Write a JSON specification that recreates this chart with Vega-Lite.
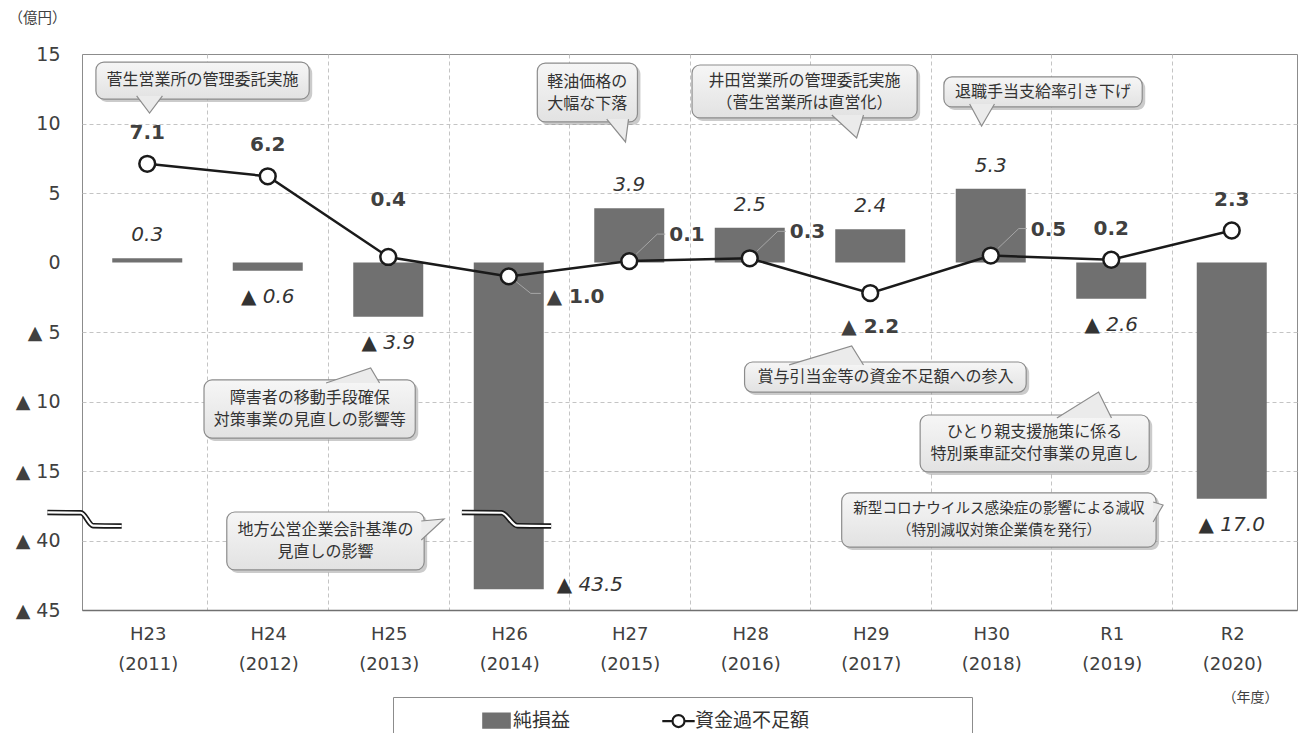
{
"$schema":"https://vega.github.io/schema/vega-lite/v6.json",
"width":1215,"height":556,"autosize":"none",
"padding":{"left":82,"top":54,"right":3,"bottom":123},
"background":"white",
"config":{
 "view":{"stroke":"#8c8c8c","strokeWidth":1},
 "locale":{"number":{"decimal":".","thousands":",","grouping":[3],"currency":["",""],"minus":"▲ "}},
 "axis":{"labelFont":"DejaVu Sans","labelColor":"#404040","titleFont":"Noto Sans CJK JP","titleColor":"#404040","titleFontWeight":"normal","ticks":false}
},
"datasets":{
 "main":[
  {"i":0,"nendo":"H23","year":2011,"pl":0.3,"cf":7.1},
  {"i":1,"nendo":"H24","year":2012,"pl":-0.6,"cf":6.2},
  {"i":2,"nendo":"H25","year":2013,"pl":-3.9,"cf":0.4},
  {"i":3,"nendo":"H26","year":2014,"pl":-43.5,"cf":-1.0},
  {"i":4,"nendo":"H27","year":2015,"pl":3.9,"cf":0.1},
  {"i":5,"nendo":"H28","year":2016,"pl":2.5,"cf":0.3},
  {"i":6,"nendo":"H29","year":2017,"pl":2.4,"cf":-2.2},
  {"i":7,"nendo":"H30","year":2018,"pl":5.3,"cf":0.5},
  {"i":8,"nendo":"R1","year":2019,"pl":-2.6,"cf":0.2},
  {"i":9,"nendo":"R2","year":2020,"pl":-17.0,"cf":2.3}
 ],
 "notes":[
  {"id":1,"text":"菅生営業所の管理委託実施","xa":-0.426,"xb":1.344,"ya":14.42,"yb":11.76,"tx":0.459,"ty":13.1},
  {"id":2,"text":"軽油価格の\n大幅な下落","xa":3.237,"xb":4.068,"ya":14.35,"yb":10.11,"tx":3.652,"ty":12.23},
  {"id":3,"text":"井田営業所の管理委託実施\n（菅生営業所は直営化）","xa":4.521,"xb":6.389,"ya":14.21,"yb":10.40,"tx":5.455,"ty":12.30},
  {"id":4,"text":"退職手当支給率引き下げ","xa":6.611,"xb":8.257,"ya":13.35,"yb":11.19,"tx":7.434,"ty":12.27},
  {"id":5,"text":"障害者の移動手段確保\n対策事業の見直しの影響等","xa":0.471,"xb":2.224,"ya":-8.45,"yb":-12.63,"tx":1.348,"ty":-10.54},
  {"id":6,"text":"地方公営企業会計基準の\n見直しの影響","xa":0.660,"xb":2.298,"ya":-24.28,"yb":-42.12,"tx":1.479,"ty":-40.04},
  {"id":7,"text":"賞与引当金等の資金不足額への参入","xa":4.957,"xb":7.294,"ya":-7.16,"yb":-9.32,"tx":6.126,"ty":-8.24},
  {"id":8,"text":"ひとり親支援施策に係る\n特別乗車証交付事業の見直し","xa":6.414,"xb":8.315,"ya":-10.97,"yb":-15.07,"tx":7.364,"ty":-13.02},
  {"id":9,"text":"新型コロナウイルス感染症の影響による減収\n（特別減収対策企業債を発行）","xa":5.763,"xb":8.372,"ya":-16.58,"yb":-40.47,"tx":7.068,"ty":-28.69}
 ],
 "tails":[
  {"id":1,"k":0,"x":-0.088,"y":11.98},{"id":1,"k":1,"x":0.019,"y":10.75},{"id":1,"k":2,"x":0.126,"y":11.98},
  {"id":2,"k":0,"x":3.813,"y":10.32},{"id":2,"k":1,"x":3.969,"y":8.67},{"id":2,"k":2,"x":3.994,"y":10.32},
  {"id":3,"k":0,"x":5.681,"y":10.61},{"id":3,"k":1,"x":5.887,"y":8.96},{"id":3,"k":2,"x":5.944,"y":10.61},
  {"id":4,"k":0,"x":6.825,"y":11.40},{"id":4,"k":1,"x":6.924,"y":9.82},{"id":4,"k":2,"x":7.031,"y":11.40},
  {"id":5,"k":0,"x":1.484,"y":-8.67},{"id":5,"k":1,"x":1.854,"y":-7.59},{"id":5,"k":2,"x":1.928,"y":-8.67},
  {"id":6,"k":0,"x":2.274,"y":-29.25},{"id":6,"k":1,"x":2.463,"y":-28.14},{"id":6,"k":2,"x":2.274,"y":-39.72},
  {"id":7,"k":0,"x":5.327,"y":-7.37},{"id":7,"k":1,"x":5.846,"y":-6.01},{"id":7,"k":2,"x":5.944,"y":-7.37},
  {"id":8,"k":0,"x":7.549,"y":-11.19},{"id":8,"k":1,"x":7.895,"y":-9.32},{"id":8,"k":2,"x":8.002,"y":-11.19},
  {"id":9,"k":0,"x":8.348,"y":-18.76},{"id":9,"k":1,"x":8.430,"y":-20.42},{"id":9,"k":2,"x":8.348,"y":-29.80}
 ],
 "breaks":[
  {"id":"axis","k":0,"x":-0.829,"y":-24.5},{"id":"axis","k":1,"x":-0.55,"y":-24.7},{"id":"axis","k":2,"x":-0.45,"y":-31.8},{"id":"axis","k":3,"x":-0.212,"y":-32.0},
  {"id":"bar","k":0,"x":2.611,"y":-24.5},{"id":"bar","k":1,"x":2.94,"y":-24.7},{"id":"bar","k":2,"x":3.07,"y":-31.8},{"id":"bar","k":3,"x":3.352,"y":-32.0}
 ]
},
"layer":[
 {"data":{"name":"main"},
  "mark":{"type":"bar","orient":"vertical","width":70},
  "encoding":{
   "x":{"field":"i","type":"quantitative","scale":{"domain":[-0.5,9.5],"nice":false,"zero":false},
    "axis":{"values":[-0.5,0.5,1.5,2.5,3.5,4.5,5.5,6.5,7.5,8.5],
     "labelExpr":"[['H23','(2011)'],['H24','(2012)'],['H25','(2013)'],['H26','(2014)'],['H27','(2015)'],['H28','(2016)'],['H29','(2017)'],['H30','(2018)'],['R1','(2019)'],['R2','(2020)']][round(datum.value+0.5)]",
     "labelOffset":60.75,"labelFontSize":18,"labelLineHeight":30,"labelPadding":15,"labelBaseline":"top","labelFlush":false,"labelOverlap":false,
     "grid":true,"gridDash":[4,3],"gridColor":{"condition":{"test":"datum.value < 0","value":"transparent"},"value":"#c4c4c4"},
     "domain":true,"domainColor":"#707070","domainWidth":1.5,
     "title":"（年度）","titleX":1168,"titleY":87,"titleAlign":"center","titleBaseline":"middle","titleFontSize":14}},
   "y":{"field":"pl","type":"quantitative","scale":{"domain":[-45,-40,-17,15],"range":[556,486.5,444.8,0],"nice":false,"zero":false},
    "axis":{"values":[-45,-40,-15,-10,-5,0,5,10,15],
     "labelExpr":"datum.value < 0 ? '▲ ' + abs(datum.value) : '' + datum.value",
     "labelFontSize":19,"labelPadding":22,"labelFlush":false,"labelOverlap":false,
     "grid":true,"gridDash":[4,3],"gridColor":{"condition":{"test":"datum.value === 15 || datum.value === -45 || datum.value === 0","value":"transparent"},"value":"#c4c4c4"},
     "domain":false,
     "title":"（億円）","titleAngle":0,"titleX":-74,"titleY":-36,"titleAlign":"left","titleBaseline":"middle","titleFontSize":14.5}},
   "y2":{"datum":0},
   "color":{"datum":"純損益","type":"nominal","scale":{"domain":["純損益","資金過不足額"],"range":["#707070","#1a1a1a"]},
    "legend":{"orient":"none","legendX":311,"legendY":643,"direction":"horizontal",
     "title":"\u200B\u3000\u3000\u3000\u3000\u200B","titleOrient":"left","titleFont":"Noto Sans CJK JP","titleFontSize":20,"titlePadding":0,
     "padding":10,"strokeColor":"#8c8c8c","fillColor":"white",
     "labelFont":"Noto Sans CJK JP","labelFontSize":19,"labelColor":"#333333","labelOffset":3,"columnPadding":86,"labelLimit":600,
     "symbolSize":576,
     "labelExpr":"datum.label === '資金過不足額' ? datum.label + '\u3000\u3000\u3000\u3000\u3000\u3000\u3000\u3000\u200B' : datum.label",
     "encode":{"symbols":{"update":{
      "shape":{"signal":"datum.value === '純損益' ? 'M-1.1,-0.58H1.1V0.58H-1.1Z' : 'M-1.35,0H-0.5M0.5,0H1.35M-0.5,0A0.5,0.5,0,1,1,0.5,0A0.5,0.5,0,1,1,-0.5,0Z'"},
      "fill":{"signal":"datum.value === '純損益' ? '#707070' : '#ffffff'"},
      "fillOpacity":{"signal":"datum.value === '純損益' ? 1 : 0"},
      "stroke":{"signal":"datum.value === '純損益' ? '#707070' : '#1a1a1a'"},
      "strokeWidth":{"value":2.2},"size":{"value":576},"opacity":{"value":1},"strokeOpacity":{"value":1}}}}}}
  }},
 {"mark":{"type":"rule","color":"#404040","strokeWidth":1.5},"encoding":{"y":{"datum":0}}},
 {"data":{"name":"breaks"},"mark":{"type":"line","color":"#1a1a1a","strokeWidth":5.5,"interpolate":"monotone"},
  "encoding":{"x":{"field":"x","type":"quantitative"},"y":{"field":"y","type":"quantitative"},"detail":{"field":"id"},"order":{"field":"k"}}},
 {"data":{"name":"breaks"},"mark":{"type":"line","color":"#ffffff","strokeWidth":2.2,"interpolate":"monotone"},
  "encoding":{"x":{"field":"x","type":"quantitative"},"y":{"field":"y","type":"quantitative"},"detail":{"field":"id"},"order":{"field":"k"}}},
 {"data":{"name":"main"},"transform":[{"filter":"indexof([4,5,7], datum.i) >= 0"}],
  "mark":{"type":"rule","color":"#a6a6a6","strokeWidth":1,"xOffset":7,"yOffset":-7,"x2Offset":28,"y2Offset":-27},
  "encoding":{"x":{"field":"i","type":"quantitative"},"x2":{"field":"i"},"y":{"field":"cf","type":"quantitative"},"y2":{"field":"cf"}}},
 {"data":{"name":"main"},"transform":[{"filter":"indexof([4,5,7], datum.i) >= 0"}],
  "mark":{"type":"rule","color":"#a6a6a6","strokeWidth":1,"xOffset":28,"yOffset":-27,"x2Offset":36,"y2Offset":-27},
  "encoding":{"x":{"field":"i","type":"quantitative"},"x2":{"field":"i"},"y":{"field":"cf","type":"quantitative"},"y2":{"field":"cf"}}},
 {"data":{"name":"main"},"transform":[{"filter":"datum.i === 3"}],
  "mark":{"type":"rule","color":"#a6a6a6","strokeWidth":1,"xOffset":7,"yOffset":5,"x2Offset":22,"y2Offset":17},
  "encoding":{"x":{"field":"i","type":"quantitative"},"x2":{"field":"i"},"y":{"field":"cf","type":"quantitative"},"y2":{"field":"cf"}}},
 {"data":{"name":"main"},"transform":[{"filter":"datum.i === 3"}],
  "mark":{"type":"rule","color":"#a6a6a6","strokeWidth":1,"xOffset":22,"yOffset":17,"x2Offset":32,"y2Offset":17},
  "encoding":{"x":{"field":"i","type":"quantitative"},"x2":{"field":"i"},"y":{"field":"cf","type":"quantitative"},"y2":{"field":"cf"}}},
 {"data":{"name":"main"},
  "mark":{"type":"line","strokeWidth":2.5,"point":{"filled":false,"fill":"#ffffff","size":250,"strokeWidth":2.5}},
  "encoding":{"x":{"field":"i","type":"quantitative"},"y":{"field":"cf","type":"quantitative"},"color":{"datum":"資金過不足額","type":"nominal"}}},
 {"data":{"name":"main"},"transform":[{"filter":"datum.pl > 0"}],
  "mark":{"type":"text","font":"DejaVu Sans","fontSize":20,"fontStyle":"italic","color":"#333333","dy":-23,"baseline":"middle"},
  "encoding":{"x":{"field":"i","type":"quantitative"},"y":{"field":"pl","type":"quantitative"},"text":{"field":"pl","type":"quantitative","format":".1f"}}},
 {"data":{"name":"main"},"transform":[{"filter":"datum.pl < 0 && datum.pl > -40"}],
  "mark":{"type":"text","font":"DejaVu Sans","fontSize":20,"fontStyle":"italic","color":"#333333","dy":26,"baseline":"middle"},
  "encoding":{"x":{"field":"i","type":"quantitative"},"y":{"field":"pl","type":"quantitative"},"text":{"field":"pl","type":"quantitative","format":".1f"}}},
 {"data":{"name":"main"},"transform":[{"filter":"datum.pl < -40"}],
  "mark":{"type":"text","font":"DejaVu Sans","fontSize":20,"fontStyle":"italic","color":"#333333","dx":48,"dy":-4,"align":"left","baseline":"middle"},
  "encoding":{"x":{"field":"i","type":"quantitative"},"y":{"field":"pl","type":"quantitative"},"text":{"field":"pl","type":"quantitative","format":".1f"}}},
 {"data":{"name":"main"},"transform":[{"filter":"indexof([0,1,8,9], datum.i) >= 0"}],
  "mark":{"type":"text","font":"DejaVu Sans","fontSize":20,"fontWeight":"bold","color":"#404040","dy":-31,"baseline":"middle"},
  "encoding":{"x":{"field":"i","type":"quantitative"},"y":{"field":"cf","type":"quantitative"},"text":{"field":"cf","type":"quantitative","format":".1f"}}},
 {"data":{"name":"main"},"transform":[{"filter":"datum.i === 2"}],
  "mark":{"type":"text","font":"DejaVu Sans","fontSize":20,"fontWeight":"bold","color":"#404040","dy":-57,"baseline":"middle"},
  "encoding":{"x":{"field":"i","type":"quantitative"},"y":{"field":"cf","type":"quantitative"},"text":{"field":"cf","type":"quantitative","format":".1f"}}},
 {"data":{"name":"main"},"transform":[{"filter":"datum.i === 6"}],
  "mark":{"type":"text","font":"DejaVu Sans","fontSize":20,"fontWeight":"bold","color":"#404040","dy":34,"baseline":"middle"},
  "encoding":{"x":{"field":"i","type":"quantitative"},"y":{"field":"cf","type":"quantitative"},"text":{"field":"cf","type":"quantitative","format":".1f"}}},
 {"data":{"name":"main"},"transform":[{"filter":"indexof([4,5,7], datum.i) >= 0"}],
  "mark":{"type":"text","font":"DejaVu Sans","fontSize":20,"fontWeight":"bold","color":"#404040","dx":40,"dy":-26,"align":"left","baseline":"middle"},
  "encoding":{"x":{"field":"i","type":"quantitative"},"y":{"field":"cf","type":"quantitative"},"text":{"field":"cf","type":"quantitative","format":".1f"}}},
 {"data":{"name":"main"},"transform":[{"filter":"datum.i === 3"}],
  "mark":{"type":"text","font":"DejaVu Sans","fontSize":20,"fontWeight":"bold","color":"#404040","dx":38,"dy":21,"align":"left","baseline":"middle"},
  "encoding":{"x":{"field":"i","type":"quantitative"},"y":{"field":"cf","type":"quantitative"},"text":{"field":"cf","type":"quantitative","format":".1f"}}},
 {"data":{"name":"notes"},
  "mark":{"type":"rect","fill":"#8c8c8c","opacity":0.45,"cornerRadius":8,"xOffset":3,"x2Offset":3,"yOffset":3,"y2Offset":3},
  "encoding":{"x":{"field":"xa","type":"quantitative"},"x2":{"field":"xb"},"y":{"field":"ya","type":"quantitative"},"y2":{"field":"yb"}}},
 {"data":{"name":"notes"},
  "mark":{"type":"rect","fill":{"gradient":"linear","x1":0,"y1":0,"x2":0,"y2":1,"stops":[{"offset":0,"color":"#f6f6f6"},{"offset":1,"color":"#e2e2e2"}]},"stroke":"#8c8c8c","strokeWidth":1.2,"cornerRadius":8},
  "encoding":{"x":{"field":"xa","type":"quantitative"},"x2":{"field":"xb"},"y":{"field":"ya","type":"quantitative"},"y2":{"field":"yb"}}},
 {"data":{"name":"tails"},
  "mark":{"type":"line","fill":"#ebebeb","stroke":"#8c8c8c","strokeWidth":1.2,"strokeJoin":"miter"},
  "encoding":{"x":{"field":"x","type":"quantitative"},"y":{"field":"y","type":"quantitative"},"detail":{"field":"id"},"order":{"field":"k"}}},
 {"data":{"name":"notes"},"transform":[{"filter":"indexof([1,4,7], datum.id) >= 0"}],
  "mark":{"type":"text","font":"Noto Sans CJK JP","fontSize":16,"color":"#333333","align":"center","baseline":"middle"},
  "encoding":{"x":{"field":"tx","type":"quantitative"},"y":{"field":"ty","type":"quantitative"},"text":{"field":"text"}}},
 {"data":{"name":"notes"},"transform":[{"filter":"indexof([2,3,5,6,8], datum.id) >= 0"}],
  "mark":{"type":"text","font":"Noto Sans CJK JP","fontSize":16,"color":"#333333","lineBreak":"\n","lineHeight":22,"align":"center","baseline":"middle","dy":-11},
  "encoding":{"x":{"field":"tx","type":"quantitative"},"y":{"field":"ty","type":"quantitative"},"text":{"field":"text"}}},
 {"data":{"name":"notes"},"transform":[{"filter":"datum.id === 9"}],
  "mark":{"type":"text","font":"Noto Sans CJK JP","fontSize":14.6,"color":"#333333","lineBreak":"\n","lineHeight":22,"align":"center","baseline":"middle","dy":-11},
  "encoding":{"x":{"field":"tx","type":"quantitative"},"y":{"field":"ty","type":"quantitative"},"text":{"field":"text"}}}
]
}
